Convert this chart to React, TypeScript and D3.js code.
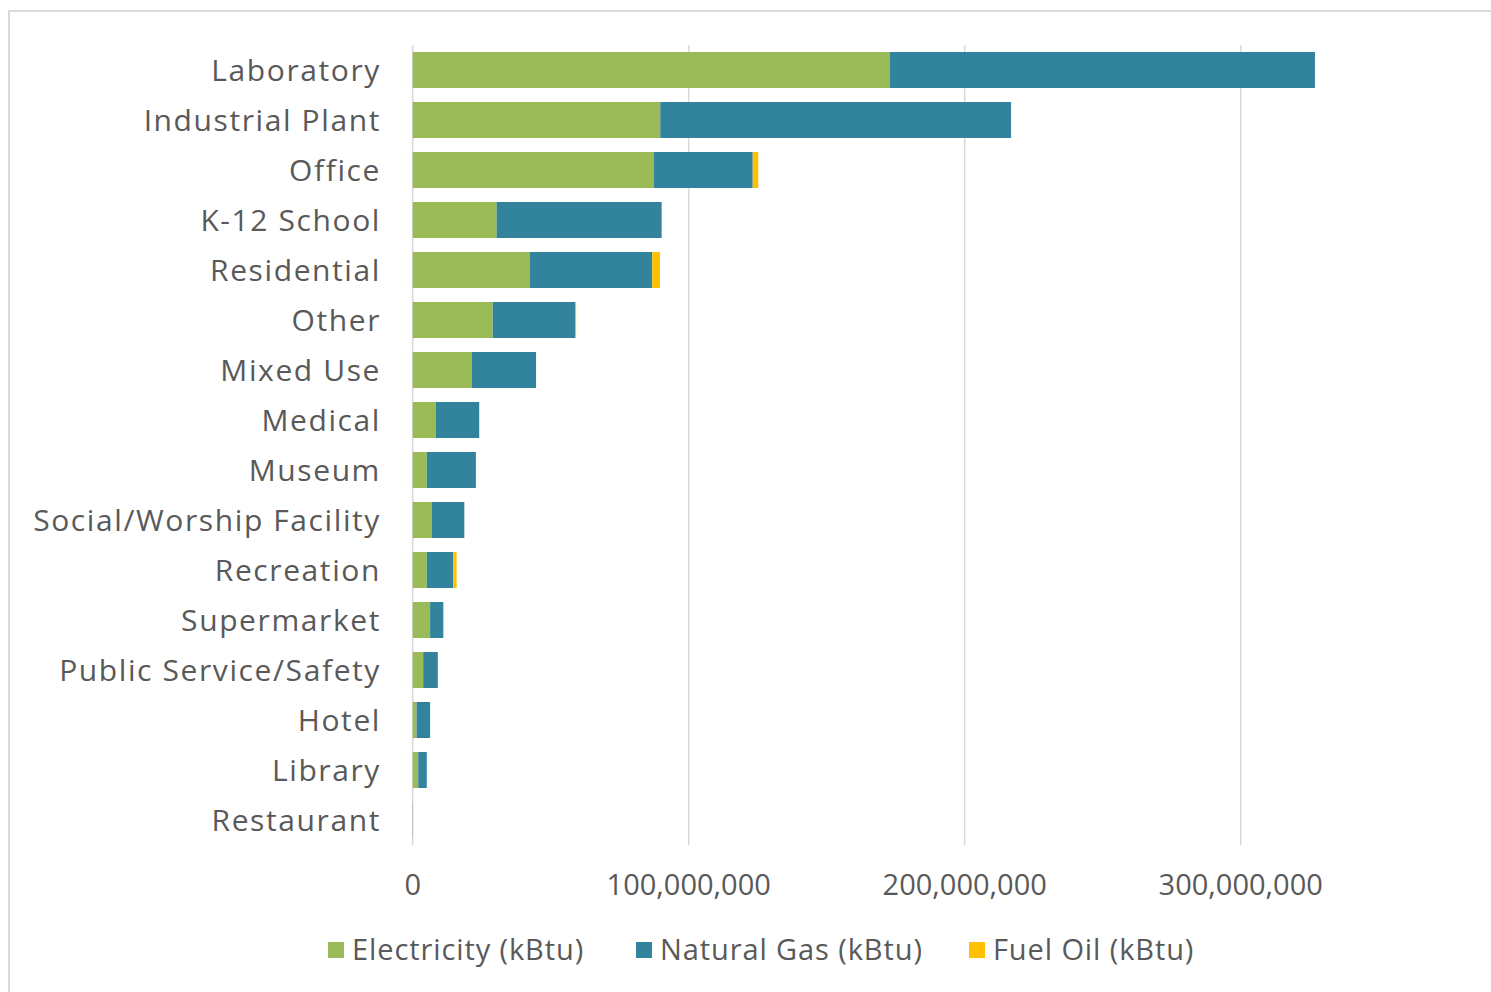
import React from "react";
import * as d3 from "d3";

const categories = [
  "Laboratory",
  "Industrial Plant",
  "Office",
  "K-12 School",
  "Residential",
  "Other",
  "Mixed Use",
  "Medical",
  "Museum",
  "Social/Worship Facility",
  "Recreation",
  "Supermarket",
  "Public Service/Safety",
  "Hotel",
  "Library",
  "Restaurant",
];

// values in kBtu
const electricity = [
  172.9e6, 89.7e6, 87.4e6, 30.4e6, 42.4e6, 29.0e6, 21.4e6, 8.4e6, 5.1e6, 6.9e6,
  5.1e6, 6.3e6, 3.8e6, 1.4e6, 2.0e6, 0.05e6,
];
const naturalGas = [
  154.0e6, 127.1e6, 35.8e6, 59.8e6, 44.4e6, 29.8e6, 23.3e6, 15.7e6, 17.8e6,
  11.8e6, 9.6e6, 4.8e6, 5.3e6, 4.9e6, 3.1e6, 0.05e6,
];
const fuelOil = [
  0, 0, 2.0e6, 0, 2.8e6, 0.4e6, 0, 0, 0, 0, 1.2e6, 0, 0, 0, 0, 0,
];

const seriesNames = ["Electricity (kBtu)", "Natural Gas (kBtu)", "Fuel Oil (kBtu)"];
const seriesColors = ["#9BBB59", "#31849B", "#FFC000"];
const xTicks = [0, 100e6, 200e6, 300e6];

const W = 1491;
const H = 992;
const FONT = "'Open Sans', sans-serif";
const TEXT = "#595959";

export default function App() {
  const x = d3.scaleLinear().domain([0, 100e6]).range([412.7, 688.7]);
  const y = d3
    .scaleBand<string>()
    .domain(categories)
    .range([45, 845])
    .paddingInner(0.28)
    .paddingOuter(0.14);

  const rows = categories.map((c, i) => ({
    cat: c,
    e: electricity[i],
    g: naturalGas[i],
    o: fuelOil[i],
  }));
  const stack = d3.stack<any>().keys(["e", "g", "o"])(rows);
  const fmt = d3.format(",");

  const legendX = [328, 636, 969];

  return (
    <svg
      width={W}
      height={H}
      style={{ position: "absolute", left: 0, top: 0, background: "#fff" }}
      fontFamily={FONT}
    >
      <rect x={0} y={0} width={W} height={H} fill="#fff" />
      {/* frame */}
      <path d={`M9,${H} V11 H${W}`} fill="none" stroke="#d9d9d9" strokeWidth={2} />

      {/* gridlines */}
      {xTicks.map((t) => (
        <line
          key={t}
          x1={x(t)}
          x2={x(t)}
          y1={45}
          y2={845}
          stroke="#d9d9d9"
          strokeWidth={1.5}
        />
      ))}

      {/* bars */}
      {stack.map((s, si) => (
        <g key={si} fill={seriesColors[si]}>
          {s.map((d, i) => {
            const w = x(d[1]) - x(d[0]);
            if (w <= 0) return null;
            return (
              <rect
                key={i}
                x={x(d[0])}
                y={y(categories[i])}
                width={w}
                height={y.bandwidth()}
              />
            );
          })}
        </g>
      ))}

      {/* category labels */}
      {categories.map((c) => (
        <text
          key={c}
          x={381}
          y={(y(c) as number) + y.bandwidth() / 2}
          dy="0.35em"
          textAnchor="end"
          fontSize={30}
          letterSpacing={1.6}
          fill={TEXT}
        >
          {c}
        </text>
      ))}

      {/* x tick labels */}
      {xTicks.map((t) => (
        <text
          key={t}
          x={x(t)}
          y={885}
          dy="0.35em"
          textAnchor="middle"
          fontSize={29}
          fill={TEXT}
        >
          {fmt(t)}
        </text>
      ))}

      {/* legend */}
      {seriesNames.map((n, i) => (
        <g key={n}>
          <rect x={legendX[i]} y={942} width={16} height={16} fill={seriesColors[i]} />
          <text
            x={legendX[i] + 24}
            y={950}
            dy="0.35em"
            fontSize={29}
            letterSpacing={0.9}
            fill={TEXT}
          >
            {n}
          </text>
        </g>
      ))}
    </svg>
  );
}
